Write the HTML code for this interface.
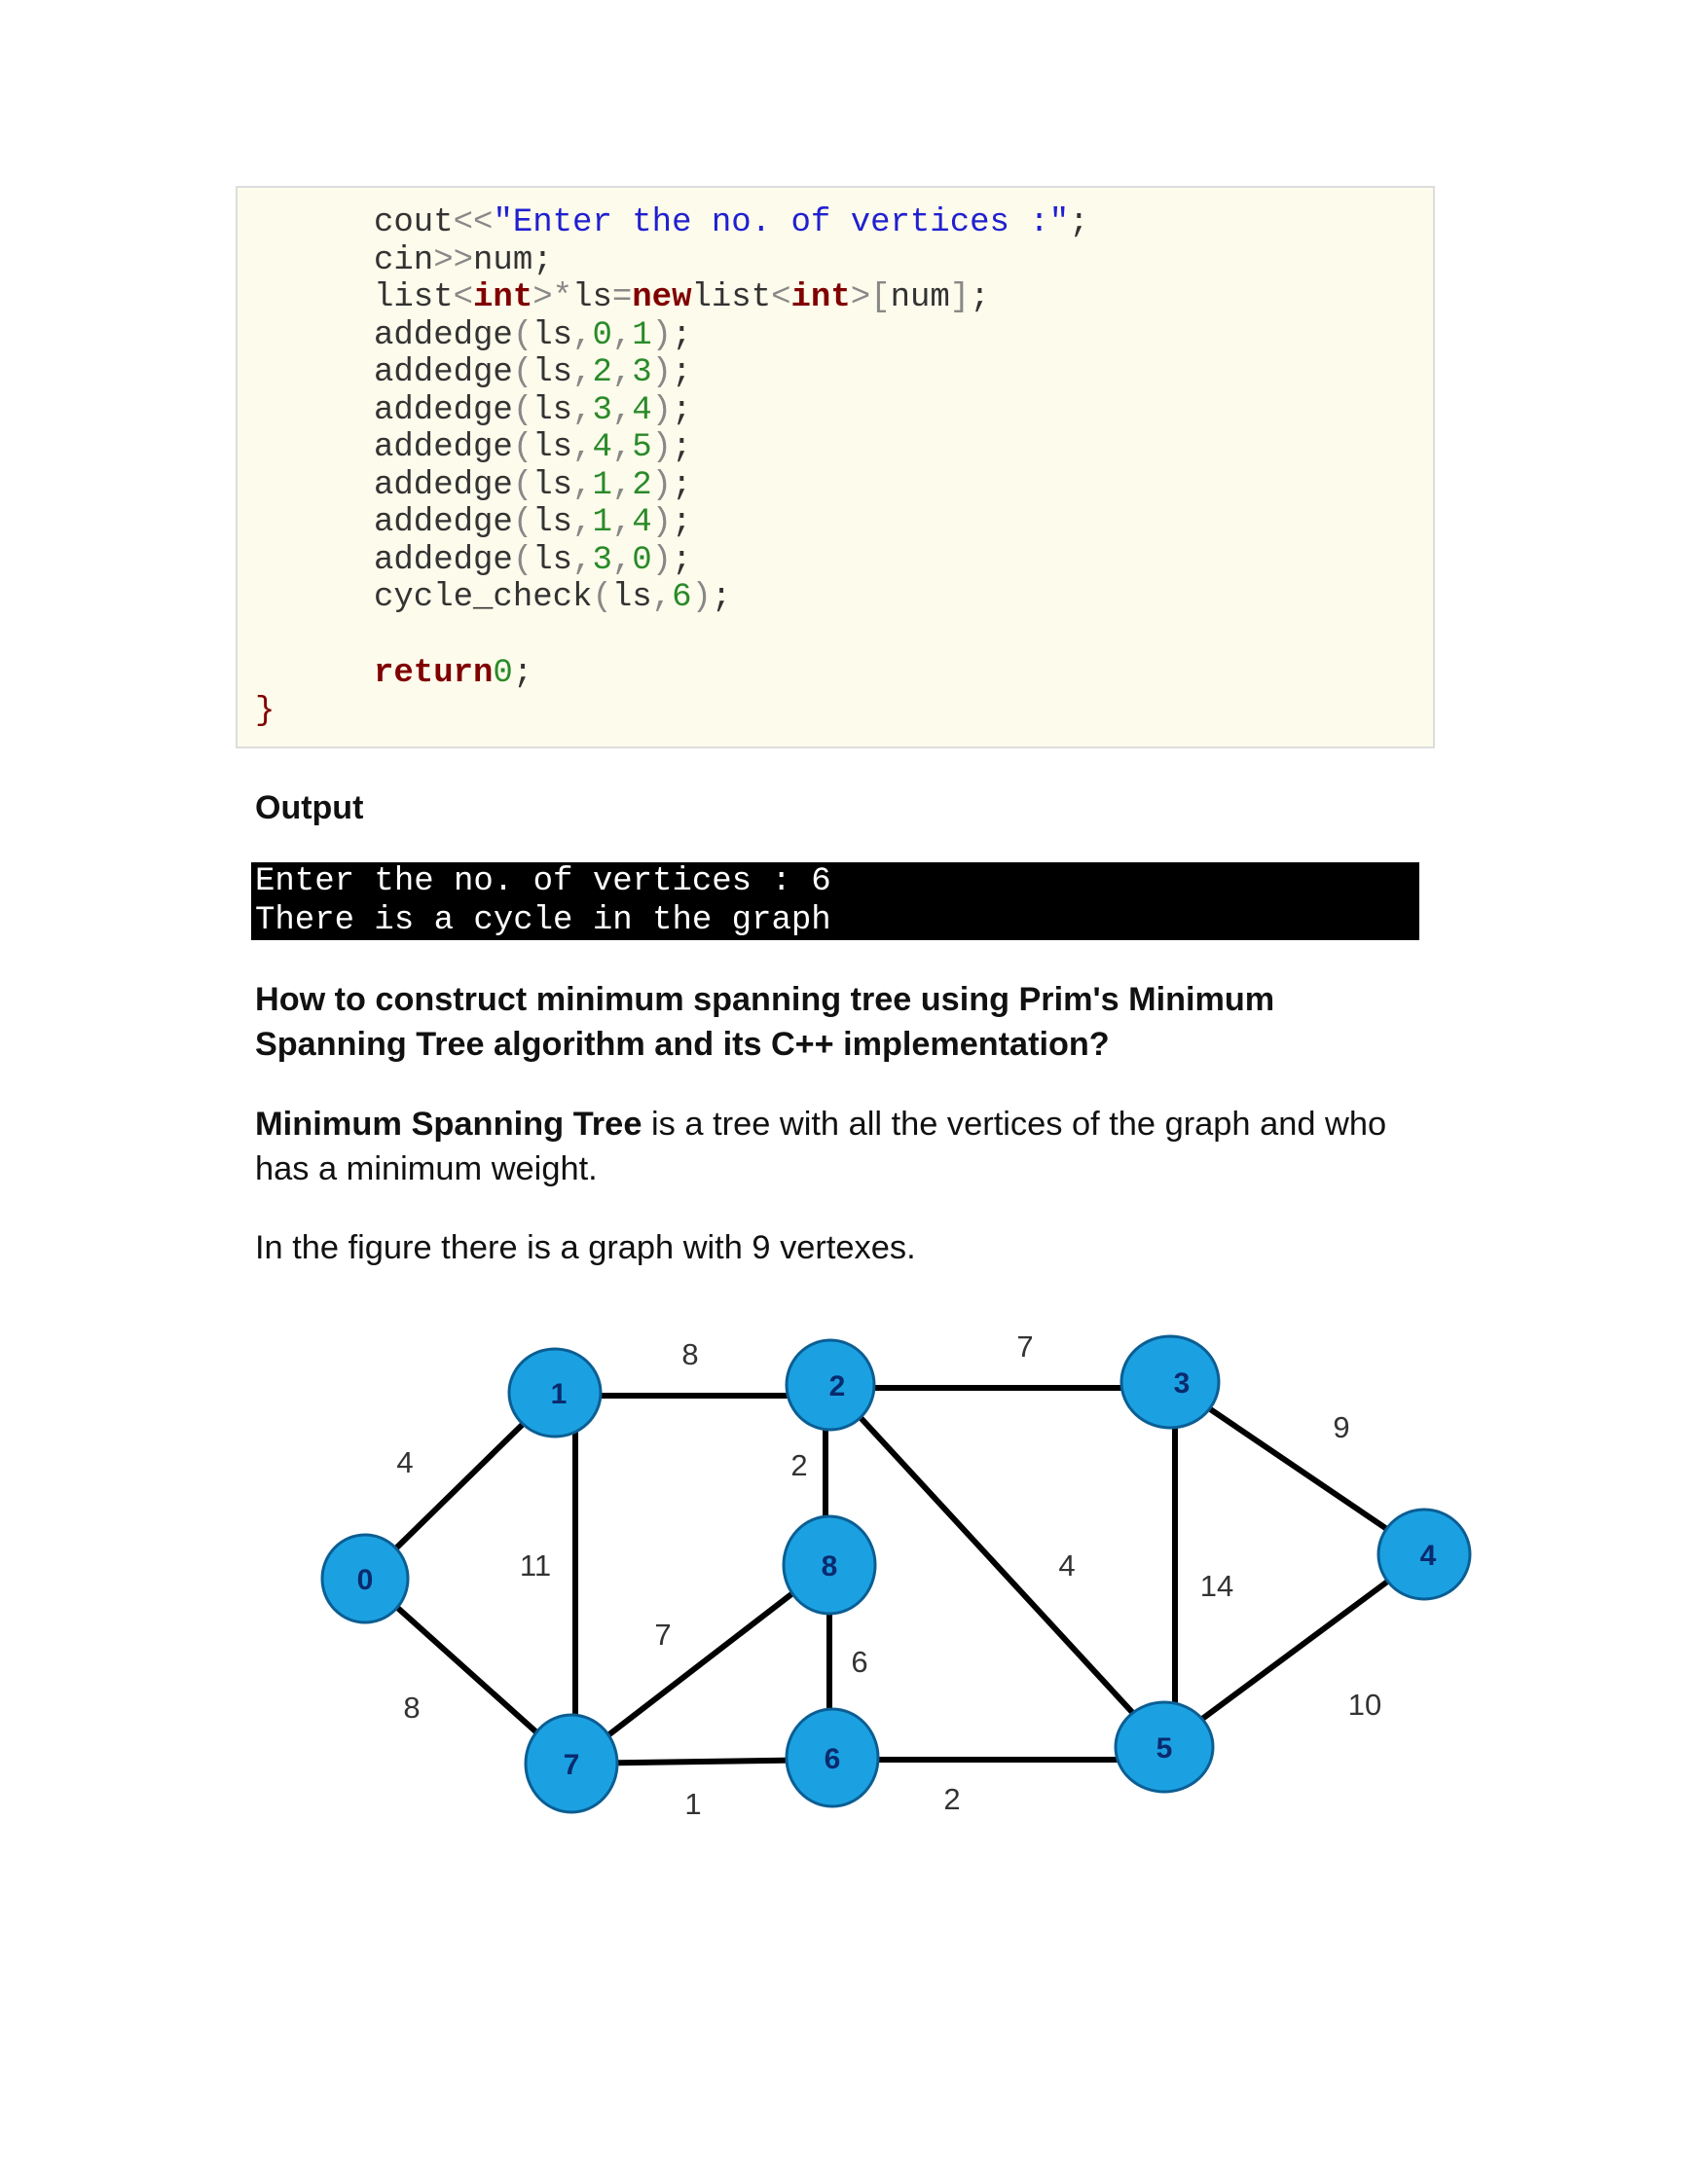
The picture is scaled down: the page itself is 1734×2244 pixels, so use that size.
<!DOCTYPE html>
<html><head><meta charset="utf-8"><style>
body{margin:0;width:1734px;height:2244px;background:#fff;position:relative;overflow:hidden;font-family:"Liberation Sans",sans-serif}
.abs{position:absolute;white-space:pre}
.code{position:absolute;left:242px;top:191px;width:1232px;height:578px;background:#fdfbeb;border:2px solid #ddd;box-sizing:border-box}
.cl{position:absolute;font-family:"Liberation Mono",monospace;font-size:34px;color:#333;white-space:pre;line-height:38px}
.b{color:#2020d0}.k{color:#800000;font-weight:bold}.n{color:#2a8a2a}.g{color:#888}
.out{position:absolute;left:258px;top:888px;width:1200px;height:80px;background:#000}
.ol{position:absolute;left:262px;font-family:"Liberation Mono",monospace;font-size:34px;color:#fff;white-space:pre;line-height:38px}
.t{position:absolute;left:262px;color:#111;white-space:pre}
</style></head><body>
<div class="code"></div>
<div class="cl" style="left:384px;top:210px">cout<span class="g">&lt;&lt;</span><span class="b">"Enter the no. of vertices :"</span>;</div>
<div class="cl" style="left:384px;top:249px">cin<span class="g">&gt;&gt;</span>num;</div>
<div class="cl" style="left:384px;top:287px">list<span class="g">&lt;</span><span class="k">int</span><span class="g">&gt;*</span>ls<span class="g">=</span><span class="k">new</span>list<span class="g">&lt;</span><span class="k">int</span><span class="g">&gt;[</span>num<span class="g">]</span>;</div>
<div class="cl" style="left:384px;top:326px">addedge<span class="g">(</span>ls<span class="g">,</span><span class="n">0</span><span class="g">,</span><span class="n">1</span><span class="g">)</span>;</div>
<div class="cl" style="left:384px;top:364px">addedge<span class="g">(</span>ls<span class="g">,</span><span class="n">2</span><span class="g">,</span><span class="n">3</span><span class="g">)</span>;</div>
<div class="cl" style="left:384px;top:403px">addedge<span class="g">(</span>ls<span class="g">,</span><span class="n">3</span><span class="g">,</span><span class="n">4</span><span class="g">)</span>;</div>
<div class="cl" style="left:384px;top:441px">addedge<span class="g">(</span>ls<span class="g">,</span><span class="n">4</span><span class="g">,</span><span class="n">5</span><span class="g">)</span>;</div>
<div class="cl" style="left:384px;top:480px">addedge<span class="g">(</span>ls<span class="g">,</span><span class="n">1</span><span class="g">,</span><span class="n">2</span><span class="g">)</span>;</div>
<div class="cl" style="left:384px;top:518px">addedge<span class="g">(</span>ls<span class="g">,</span><span class="n">1</span><span class="g">,</span><span class="n">4</span><span class="g">)</span>;</div>
<div class="cl" style="left:384px;top:557px">addedge<span class="g">(</span>ls<span class="g">,</span><span class="n">3</span><span class="g">,</span><span class="n">0</span><span class="g">)</span>;</div>
<div class="cl" style="left:384px;top:595px">cycle_check<span class="g">(</span>ls<span class="g">,</span><span class="n">6</span><span class="g">)</span>;</div>
<div class="cl" style="left:384px;top:673px"><span class="k">return</span><span class="n">0</span>;</div>
<div class="cl" style="left:262px;top:712px;color:#800000">}</div>

<div class="t" style="top:811px;font-size:34px;font-weight:bold">Output</div>
<div class="out" style="top:886px"></div>
<div class="ol" style="top:887px">Enter the no. of vertices : 6</div>
<div class="ol" style="top:927px">There is a cycle in the graph</div>

<div class="t" style="top:1004px;font-size:34.2px;font-weight:bold;line-height:46px">How to construct minimum spanning tree using Prim's Minimum
Spanning Tree algorithm and its C++ implementation?</div>
<div class="t" style="top:1132px;font-size:34.4px;line-height:46px"><b>Minimum Spanning Tree</b> is a tree with all the vertices of the graph and who
has a minimum weight.</div>
<div class="t" style="top:1263px;font-size:34.4px">In the figure there is a graph with 9 vertexes.</div>

<svg class="abs" style="left:2px;top:-4px" width="1734" height="2244">
<g stroke="#000" stroke-width="6" fill="none">
<line x1="373" y1="1626" x2="568" y2="1435"/>
<line x1="373" y1="1626" x2="585" y2="1816"/>
<line x1="568" y1="1438" x2="851" y2="1438"/>
<line x1="589" y1="1435" x2="589" y2="1816"/>
<line x1="851" y1="1430" x2="1200" y2="1430"/>
<line x1="846" y1="1427" x2="846" y2="1612"/>
<line x1="851" y1="1427" x2="1194" y2="1799"/>
<line x1="1205" y1="1424" x2="1205" y2="1799"/>
<line x1="1200" y1="1424" x2="1461" y2="1601"/>
<line x1="1461" y1="1601" x2="1194" y2="1799"/>
<line x1="850" y1="1612" x2="585" y2="1816"/>
<line x1="850" y1="1612" x2="850" y2="1810"/>
<line x1="585" y1="1816" x2="853" y2="1812"/>
<line x1="853" y1="1812" x2="1194" y2="1812"/>
</g>
<g fill="#1ba1e2" stroke="#0b5e93" stroke-width="3">
<ellipse cx="373" cy="1626" rx="44" ry="45"/>
<ellipse cx="568" cy="1435" rx="47" ry="45"/>
<ellipse cx="851" cy="1427" rx="45" ry="46"/>
<ellipse cx="1200" cy="1424" rx="50" ry="47"/>
<ellipse cx="1461" cy="1601" rx="47" ry="46"/>
<ellipse cx="1194" cy="1799" rx="50" ry="46"/>
<ellipse cx="853" cy="1810" rx="47" ry="50"/>
<ellipse cx="585" cy="1816" rx="47" ry="50"/>
<ellipse cx="850" cy="1612" rx="47" ry="50"/>
</g>
<g fill="#0a2a6e" font-size="30" font-weight="bold" text-anchor="middle" font-family="Liberation Sans,sans-serif">
<text x="373" y="1637">0</text><text x="572" y="1446">1</text><text x="858" y="1438">2</text>
<text x="1212" y="1435">3</text><text x="1465" y="1612">4</text><text x="1194" y="1810">5</text>
<text x="853" y="1821">6</text><text x="585" y="1827">7</text><text x="850" y="1623">8</text>
</g>
<g fill="#333" font-size="31" text-anchor="middle" font-family="Liberation Sans,sans-serif">
<text x="414" y="1517">4</text><text x="707" y="1406">8</text><text x="1051" y="1398">7</text>
<text x="1376" y="1481">9</text><text x="819" y="1520">2</text><text x="548" y="1623">11</text>
<text x="1094" y="1623">4</text><text x="1248" y="1644">14</text><text x="679" y="1694">7</text>
<text x="881" y="1722">6</text><text x="421" y="1769">8</text><text x="1400" y="1766">10</text>
<text x="710" y="1868">1</text><text x="976" y="1863">2</text>
</g>
</svg>
</body></html>
